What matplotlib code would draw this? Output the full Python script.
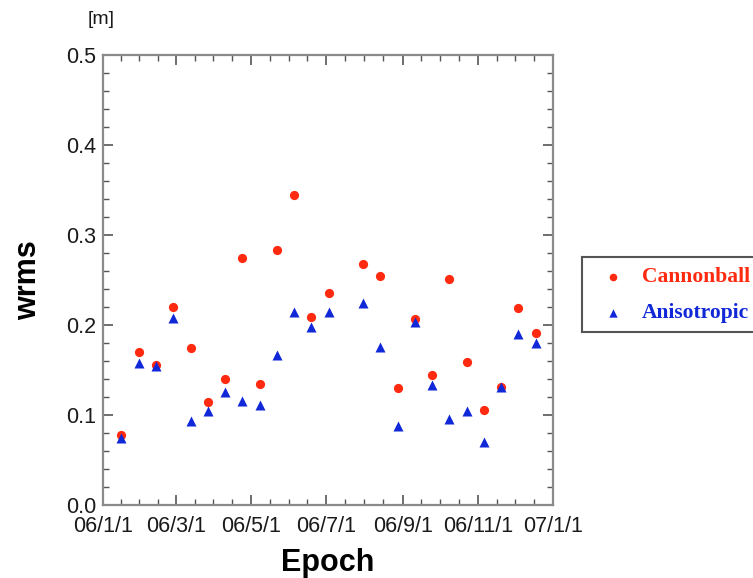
import matplotlib
matplotlib.use("Agg")
import matplotlib.pyplot as plt
import matplotlib.dates as mdates
import numpy as np
from datetime import datetime

epochs = ["2006-01-16", "2006-01-30", "2006-02-13", "2006-02-27", "2006-03-13",
          "2006-03-27", "2006-04-10", "2006-04-24", "2006-05-08", "2006-05-22",
          "2006-06-05", "2006-06-19", "2006-07-03", "2006-07-31", "2006-08-14",
          "2006-08-28", "2006-09-11", "2006-09-25", "2006-10-09", "2006-10-23",
          "2006-11-06", "2006-11-20", "2006-12-04", "2006-12-18"]
cannonball = [0.078, 0.170, 0.156, 0.220, 0.175, 0.114, 0.140, 0.275, 0.134, 0.283,
              0.344, 0.209, 0.236, 0.268, 0.254, 0.130, 0.207, 0.144, 0.251, 0.159,
              0.106, 0.131, 0.219, 0.191]
anisotropic = [0.075, 0.158, 0.154, 0.208, 0.093, 0.104, 0.126, 0.116, 0.111, 0.167,
               0.214, 0.198, 0.215, 0.225, 0.176, 0.088, 0.203, 0.133, 0.096, 0.105,
               0.070, 0.131, 0.190, 0.180]
tick_dates = ["2006-01-01", "2006-03-01", "2006-05-01", "2006-07-01",
              "2006-09-01", "2006-11-01", "2007-01-01"]
tick_labels = ["06/1/1", "06/3/1", "06/5/1", "06/7/1", "06/9/1", "06/11/1", "07/1/1"]

x = mdates.date2num([datetime.strptime(d, "%Y-%m-%d") for d in epochs])
xt = mdates.date2num([datetime.strptime(d, "%Y-%m-%d") for d in tick_dates])

plt.rcParams['font.family'] = ['Liberation Sans', 'DejaVu Sans']

fig = plt.figure(figsize=(7.53, 5.78), dpi=100)
ax = fig.add_axes([103/753, 73/578, 450/753, 450/578])

red = '#ff2a10'
blue = '#1028d8'
ax.scatter(x, cannonball, s=44, marker='o', color=red, zorder=3, linewidths=0)
ax.scatter(x, anisotropic, s=52, marker='^', color=blue, zorder=4, linewidths=0)

ax.set_xlim(xt[0], xt[-1])
ax.set_ylim(0, 0.5)
ax.set_xticks(xt)
ax.set_xticklabels(tick_labels)
minor = []
for a, b in zip(xt[:-1], xt[1:]):
    minor += [a + (b - a) * k / 4 for k in (1, 2, 3)]
ax.set_xticks(minor, minor=True)
ax.set_yticks(np.arange(0, 0.51, 0.1))
ax.set_yticklabels(["0.0", "0.1", "0.2", "0.3", "0.4", "0.5"])
ax.set_yticks(np.arange(0, 0.5, 0.02), minor=True)

for s in ax.spines.values():
    s.set_color('#8a8a8a')
    s.set_linewidth(1.6)
ax.tick_params(which='both', direction='in', top=True, right=True,
               color='#555555', labelsize=15.5, labelcolor='#1a1a1a')
ax.tick_params(which='major', length=7, width=1.2)
ax.tick_params(which='minor', length=4, width=1.0)
ax.tick_params(axis='x', which='major', pad=8)
ax.tick_params(axis='y', which='major', pad=5)

ax.set_xlabel("Epoch", fontsize=22, fontweight='bold', labelpad=8)
ax.set_ylabel("wrms", fontsize=22, fontweight='bold', labelpad=16)
fig.text(88/753, 1 - 20/578, "[m]", fontsize=14, ha='left', va='center', color='#1a1a1a')

# legend box
lax = fig.add_axes([582/753, 1 - 332/578, 200/753, 75/578])
lax.set_xlim(0, 200)
lax.set_ylim(75, 0)
lax.set_xticks([])
lax.set_yticks([])
for s in lax.spines.values():
    s.set_color('#555555')
    s.set_linewidth(1.5)
lax.scatter([31], [20], s=30, marker='o', color=red, linewidths=0)
lax.scatter([31], [56], s=36, marker='^', color=blue, linewidths=0)
lax.text(60, 20, "Cannonball", color=red, fontsize=15.5, fontweight='bold',
         family=['Liberation Serif'], va='center', ha='left')
lax.text(60, 56, "Anisotropic", color=blue, fontsize=15.5, fontweight='bold',
         family=['Liberation Serif'], va='center', ha='left')

fig.savefig("out.png", dpi=100)
